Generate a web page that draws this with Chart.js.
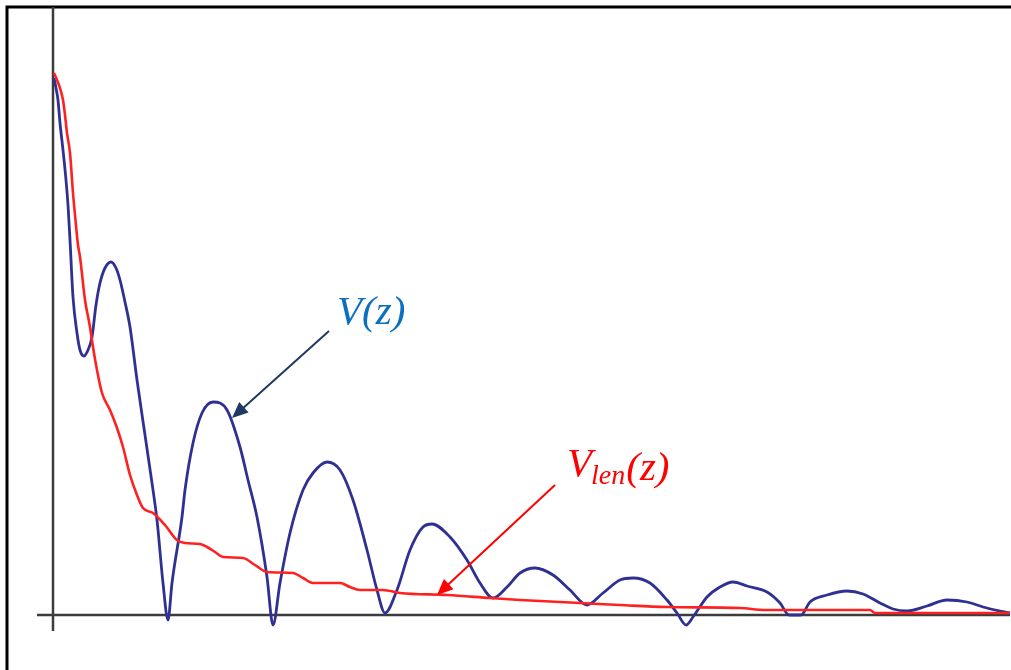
<!DOCTYPE html>
<html>
<head>
<meta charset="utf-8">
<script src="https://cdn.jsdelivr.net/npm/chart.js@4/dist/chart.umd.min.js"></script>
<style>
  html, body { margin: 0; padding: 0; background: #fff; }
  #wrap { width: 1011px; height: 670px; position: relative; }
</style>
</head>
<body>
<div id="wrap"><canvas id="chart"></canvas></div>
<script>
// V(z): oscillating response (z, value)
const vZ = [0.1, 0.3, 0.5, 0.7, 1.0, 1.3, 1.5, 1.7, 2.0, 2.4, 2.7, 3.1, 3.5, 3.9, 4.3, 4.7, 5.2, 5.8, 6.3, 6.7,
  7.2, 7.7, 8.4, 9.2, 9.9, 10.4, 11.0, 11.5, 11.9, 12.9, 13.2, 14.0, 14.9, 16.0, 17.4, 18.7, 19.5, 20.4, 21.4, 22.0,
  22.7, 23.7, 25.0, 26.0, 27.4, 28.7, 30.0, 31.4, 32.4, 33.2, 34.4, 35.7, 37.0, 37.9, 39.7, 41.4, 42.7, 44.0, 45.4, 46.7,
  48.2, 50.0, 51.7, 53.4, 55.0, 56.7, 58.0, 59.7, 61.4, 62.4, 63.3, 64.0, 65.4, 66.7, 68.0, 69.4, 71.4, 72.7, 73.6, 74.8,
  75.7, 77.4, 79.4, 81.0, 82.7, 84.0, 85.4, 87.4, 89.4, 91.4, 93.0, 94.7, 95.7];
const vVal = [107.4, 105.4, 103, 98.4, 93, 87, 82, 75, 63.6, 56.4, 53, 51.8, 53, 55.6, 62, 66.4, 69.4, 70.6, 69.4, 67,
  62.6, 57.6, 47, 36, 26.4, 19, 6.4, -1, 6.4, 19.6, 25, 34.4, 40.4, 42.6, 41, 33.6, 27, 19.6, 7.6, -2,
  6.4, 16.4, 25, 28.4, 30.6, 29, 23, 13, 5, 0.4, 5, 13, 17.6, 18.2, 15.6, 11, 6.4, 3.4, 5.6, 8.4,
  9.4, 8, 5, 2, 4.4, 7, 7.4, 6.4, 3, 0.4, -2, -0.4, 3.6, 5.6, 6.6, 5.8, 4.6, 2.4, 0, 0,
  2.6, 4, 4.8, 4.2, 2.4, 1.2, 0.8, 1.8, 3, 2.6, 1.6, 0.8, 0.4];

// Vlen(z): smooth decaying envelope
const lenZ = [0.1, 0.4, 0.7, 1.0, 1.2, 1.4, 1.7, 2.0, 2.2, 2.5, 2.7, 3.2, 3.7, 4.0, 4.4, 4.9, 5.7, 6.4, 7.0, 7.7,
  8.4, 9.0, 10.0, 11.2, 12.4, 13.2, 14.7, 15.4, 16.2, 17.0, 19.0, 20.2, 21.4, 24.0, 25.0, 26.0, 28.7, 29.7, 30.7, 33.0,
  34.7, 39.4, 43.7, 46.7, 52.7, 56.7, 61.4, 68.7, 71.2, 73.7, 81.7, 82.2, 95.7];
const lenVal = [108.4, 107, 105.4, 103, 100, 96.4, 92.4, 84.4, 80, 74, 71.6, 63, 57.6, 53.6, 49, 44.4, 41, 37.4, 33.6, 28,
  24, 21.4, 20.4, 18, 15, 14.4, 14.2, 13.6, 12.6, 11.6, 11.4, 10, 8.6, 8.4, 7.4, 6.4, 6.4, 5.6, 5, 5,
  4.4, 4, 3.4, 3, 2.4, 2, 1.6, 1.4, 1, 1, 1, 0.4, 0.4];

// labels with their arrows, in data units: [textX, textY, fromX, fromY, tipX, tipY]
const vLabel = [28.4, 58.2, 27.6, 56.8, 17.9, 39.4];
const lenLabel = [51.4, 27.8, 50.2, 26.0, 38.4, 4.0];

const toPts = (xs, ys) => xs.map((x, i) => ({ x: x, y: ys[i] }));

function arrow(ctx, x1, y1, x2, y2, color) {
  const ang = Math.atan2(y2 - y1, x2 - x1);
  const head = 16, half = 7;
  ctx.save();
  ctx.strokeStyle = color;
  ctx.fillStyle = color;
  ctx.lineWidth = 2;
  ctx.beginPath();
  ctx.moveTo(x1, y1);
  ctx.lineTo(x2 - Math.cos(ang) * head * 0.8, y2 - Math.sin(ang) * head * 0.8);
  ctx.stroke();
  ctx.beginPath();
  ctx.moveTo(x2, y2);
  ctx.lineTo(x2 - Math.cos(ang) * head - Math.sin(ang) * half, y2 - Math.sin(ang) * head + Math.cos(ang) * half);
  ctx.lineTo(x2 - Math.cos(ang) * head + Math.sin(ang) * half, y2 - Math.sin(ang) * head - Math.cos(ang) * half);
  ctx.closePath();
  ctx.fill();
  ctx.restore();
}

const decor = {
  id: "decor",
  beforeDatasetsDraw(chart) {
    const { ctx } = chart;
    const xs = chart.scales.x, ys = chart.scales.y;
    const x0 = xs.getPixelForValue(0), y0 = ys.getPixelForValue(0);
    ctx.save();
    // frame
    ctx.strokeStyle = "#000";
    ctx.lineWidth = 3;
    ctx.beginPath();
    ctx.moveTo(7, 670);
    ctx.lineTo(7, 7);
    ctx.lineTo(1011, 7);
    ctx.stroke();
    // axes through zero
    ctx.strokeStyle = "#3c3c3c";
    ctx.lineWidth = 2.5;
    ctx.beginPath();
    ctx.moveTo(x0, chart.chartArea.top);
    ctx.lineTo(x0, chart.chartArea.bottom);
    ctx.moveTo(chart.chartArea.left, y0);
    ctx.lineTo(chart.chartArea.right, y0);
    ctx.stroke();
    ctx.restore();
  },
  afterDatasetsDraw(chart) {
    const { ctx } = chart;
    const xs = chart.scales.x, ys = chart.scales.y;
    const px = v => xs.getPixelForValue(v), py = v => ys.getPixelForValue(v);

    arrow(ctx, px(vLabel[2]), py(vLabel[3]), px(vLabel[4]), py(vLabel[5]), "#1f3a60");
    arrow(ctx, px(lenLabel[2]), py(lenLabel[3]), px(lenLabel[4]), py(lenLabel[5]), "#ff0000");

    ctx.save();
    ctx.textBaseline = "alphabetic";
    ctx.fillStyle = "#0a70c0";
    ctx.font = 'italic 41px "Liberation Serif", "DejaVu Serif", serif';
    ctx.fillText("V(z)", px(vLabel[0]), py(vLabel[1]));

    ctx.fillStyle = "#ff0000";
    let tx = px(lenLabel[0]);
    const ty = py(lenLabel[1]);
    ctx.font = 'italic 41px "Liberation Serif", "DejaVu Serif", serif';
    ctx.fillText("V", tx, ty);
    tx += ctx.measureText("V").width;
    ctx.font = 'italic 28px "Liberation Serif", "DejaVu Serif", serif';
    ctx.fillText("len", tx - 1, ty + 8);
    tx += ctx.measureText("len").width;
    ctx.font = 'italic 41px "Liberation Serif", "DejaVu Serif", serif';
    ctx.fillText("(z)", tx, ty + 4);
    ctx.restore();
  }
};

new Chart(document.getElementById("chart"), {
  type: "line",
  data: {
    datasets: [
      {
        label: "Vlen(z)",
        data: toPts(lenZ, lenVal),
        borderColor: "#ff2020",
        borderWidth: 2.6,
        pointRadius: 0,
        fill: false,
        cubicInterpolationMode: "monotone",
      },
      {
        label: "V(z)",
        data: toPts(vZ, vVal),
        borderColor: "#2e3192",
        borderWidth: 2.8,
        pointRadius: 0,
        fill: false,
        cubicInterpolationMode: "monotone",
      },
    ],
  },
  options: {
    responsive: true,
    maintainAspectRatio: false,
    animation: false,
    layout: { padding: { left: 37, top: 7, right: 1, bottom: 39 } },
    plugins: {
      legend: { display: false },
      tooltip: { enabled: false },
    },
    scales: {
      x: { type: "linear", min: -1.6, max: 95.7, display: false },
      y: { type: "linear", min: -3.2, max: 121.6, display: false },
    },
  },
  plugins: [decor],
});
</script>
</body>
</html>
